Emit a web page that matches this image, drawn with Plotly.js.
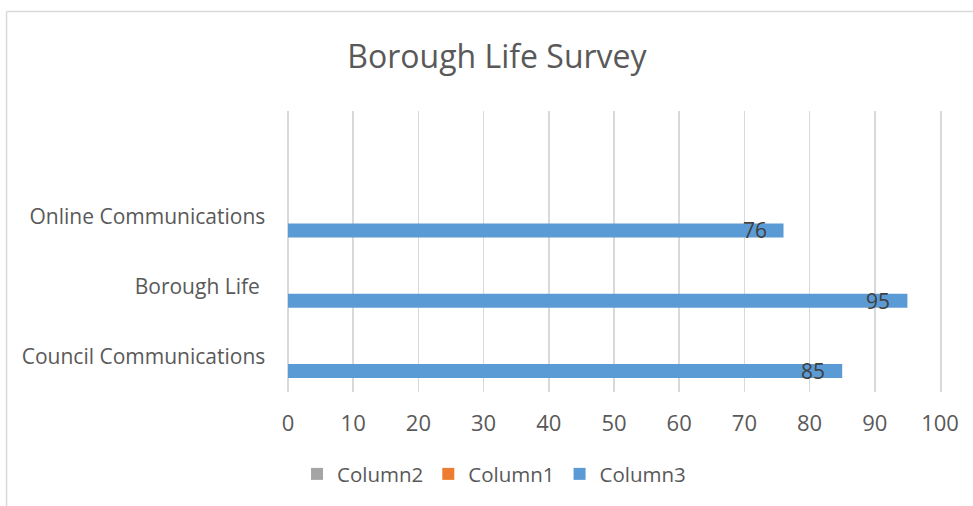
<!DOCTYPE html>
<html>
<head>
<meta charset="utf-8">
<script src="https://cdn.plot.ly/plotly-3.0.1.min.js"></script>
<style>
html,body{margin:0;padding:0;background:#fff;}
#chart{width:973px;height:506px;}
</style>
</head>
<body>
<div id="chart"></div>
<script>
// Data
const categories = ["Council Communications", "Borough Life\u00a0", "Online Communications"];
const column3 = [85, 95, 76];
const column1 = [null, null, null];
const column2 = [null, null, null];
const xTicks = [0, 10, 20, 30, 40, 50, 60, 70, 80, 90, 100];

const FONT = "Open Sans, Noto Sans, sans-serif";
const TXT = "#595959";
const GRID = "#D9D9D9";

const traces = [
  {
    type: "bar", orientation: "h", name: "Column3",
    x: column3, y: categories,
    marker: {color: "#5B9BD5"},
    width: 0.2, offset: -0.3,
    legendrank: 3, hoverinfo: "skip"
  },
  {
    type: "bar", orientation: "h", name: "Column1",
    x: column1, y: categories,
    marker: {color: "#ED7D31"},
    width: 0.2, offset: -0.1,
    legendrank: 2, hoverinfo: "skip"
  },
  {
    type: "bar", orientation: "h", name: "Column2",
    x: column2, y: categories,
    marker: {color: "#A5A5A5"},
    width: 0.2, offset: 0.1,
    legendrank: 1, hoverinfo: "skip"
  }
];

// value labels near the bar end
const annotations = categories.map((c, i) => ({
  x: column3[i], y: c, xref: "x", yref: "y",
  text: String(column3[i]), showarrow: false,
  xanchor: "center", yanchor: "middle",
  xshift: -29, yshift: -14,
  font: {family: FONT, size: 21, color: "#404040"}
}));

const layout = {
  width: 973, height: 506,
  margin: {l: 288, r: 33, t: 111, b: 114},
  paper_bgcolor: "#ffffff", plot_bgcolor: "#ffffff",
  font: {family: FONT, size: 21, color: TXT},
  title: {
    text: "Borough Life Survey",
    font: {family: FONT, size: 32, color: TXT},
    xref: "paper", x: 0.3205, xanchor: "center",
    yref: "container", y: 0.887, yanchor: "middle"
  },
  barmode: "group",
  showlegend: true,
  legend: {
    orientation: "h", traceorder: "normal",
    xref: "paper", yref: "paper",
    x: 0.316, xanchor: "center", y: -0.292, yanchor: "middle",
    font: {family: FONT, size: 20.5, color: TXT},
    itemwidth: 30
  },
  xaxis: {
    range: [0, 100], tickvals: xTicks,
    showgrid: true, gridcolor: GRID, gridwidth: 1.5,
    zeroline: true, zerolinecolor: GRID, zerolinewidth: 1.5,
    showline: false,
    ticks: "", ticklabelstandoff: 16,
    tickfont: {family: FONT, size: 22, color: TXT},
    fixedrange: true
  },
  yaxis: {
    type: "category",
    range: [-0.5, 3.5],
    showgrid: false, zeroline: false,
    showline: true, linecolor: GRID, linewidth: 1.5, mirror: true,
    ticks: "", ticklabelstandoff: 17,
    tickfont: {family: FONT, size: 21, color: TXT},
    fixedrange: true
  },
  annotations: annotations,
  shapes: [
    {type: "line", xref: "paper", yref: "paper", x0: -0.4317, x1: -0.4317, y0: 1.354, y1: -0.41,
     line: {color: GRID, width: 1.5}},
    {type: "line", xref: "paper", yref: "paper", x0: -0.4317, x1: 1.06, y0: 1.354, y1: 1.354,
     line: {color: GRID, width: 1.5}}
  ]
};

Plotly.newPlot("chart", traces, layout, {displayModeBar: false, staticPlot: true});
</script>
</body>
</html>
